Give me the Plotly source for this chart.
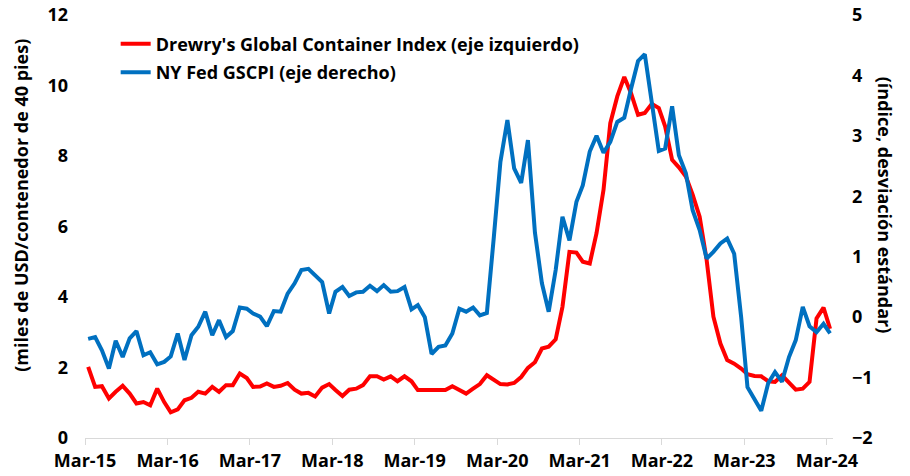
import pandas as pd
import plotly.graph_objects as go

# monthly observations, Mar-2015 .. Mar-2024 (plotted mid-month)
months = pd.date_range("2015-03-01", periods=109, freq="MS") + pd.Timedelta(days=14)

drewry = [
    2.02, 1.45, 1.47, 1.12, 1.31, 1.48, 1.26, 0.98, 1.02, 0.93, 1.40, 1.02,
    0.73, 0.81, 1.07, 1.14, 1.31, 1.26, 1.45, 1.31, 1.50, 1.50, 1.83, 1.70,
    1.45, 1.46, 1.55, 1.45, 1.48, 1.56, 1.37, 1.26, 1.28, 1.18, 1.43, 1.53,
    1.36, 1.19, 1.37, 1.40, 1.50, 1.75, 1.75, 1.66, 1.75, 1.61, 1.75, 1.61,
    1.36, 1.36, 1.36, 1.36, 1.36, 1.47, 1.36, 1.26, 1.40, 1.53, 1.78, 1.66,
    1.53, 1.52, 1.56, 1.73, 1.99, 2.15, 2.54, 2.59, 2.80, 3.72, 5.28, 5.26,
    5.00, 4.95, 5.81, 7.04, 8.93, 9.69, 10.24, 9.78, 9.17, 9.22, 9.48, 9.36,
    8.84, 7.89, 7.68, 7.42, 6.90, 6.28, 5.05, 3.44, 2.68, 2.21, 2.11, 1.97,
    1.81, 1.76, 1.75, 1.61, 1.59, 1.78, 1.56, 1.37, 1.40, 1.59, 3.39, 3.70,
    3.10,
]

gscpi = [
    -0.36, -0.33, -0.55, -0.85, -0.39, -0.66, -0.35, -0.23, -0.63, -0.58, -0.78, -0.74,
    -0.65, -0.27, -0.71, -0.30, -0.16, 0.09, -0.30, -0.05, -0.33, -0.23, 0.16, 0.14,
    0.06, 0.01, -0.15, 0.10, 0.09, 0.39, 0.56, 0.78, 0.80, 0.68, 0.58, 0.06,
    0.42, 0.50, 0.35, 0.41, 0.42, 0.52, 0.43, 0.53, 0.42, 0.43, 0.50, 0.13,
    0.20, 0.00, -0.61, -0.49, -0.47, -0.27, 0.14, 0.09, 0.16, 0.03, 0.07, 1.33,
    2.57, 3.26, 2.46, 2.22, 2.93, 1.40, 0.56, 0.09, 0.78, 1.66, 1.27, 1.91,
    2.18, 2.74, 3.00, 2.72, 2.90, 3.23, 3.30, 3.78, 4.24, 4.35, 3.59, 2.75,
    2.79, 3.49, 2.68, 2.38, 1.77, 1.44, 0.97, 1.08, 1.22, 1.30, 1.05, 0.00,
    -1.16, -1.35, -1.55, -1.09, -0.91, -1.07, -0.66, -0.38, 0.17, -0.15, -0.25, -0.11,
    -0.27,
]

tick_dates = ["%d-03-01" % y for y in range(2015, 2025)]
tick_text = ["Mar-%02d" % (y % 100) for y in range(2015, 2025)]
left_ticks = [0, 2, 4, 6, 8, 10, 12]
right_ticks = [-2, -1, 0, 1, 2, 3, 4, 5]

FONT = "Open Sans"
FS = 18

fig = go.Figure()
fig.add_trace(go.Scatter(
    x=months, y=drewry, mode="lines", name="Drewry's Global Container Index (eje izquierdo)",
    line=dict(color="#FF0000", width=4), legendgroup="a", yaxis="y",
))
fig.add_trace(go.Scatter(
    x=months, y=gscpi, mode="lines", name="NY Fed GSCPI (eje derecho)",
    line=dict(color="#0070C0", width=4), legendgroup="b", yaxis="y2",
))

fig.update_layout(
    width=910, height=476,
    margin=dict(l=85, r=77, t=15, b=38),
    paper_bgcolor="white", plot_bgcolor="white",
    font=dict(family=FONT, size=FS, color="black", weight="bold"),
    showlegend=True,
    legend=dict(x=0.041, y=0.975, xanchor="left", yanchor="top",
                bgcolor="rgba(0,0,0,0)", tracegroupgap=2,
                font=dict(family=FONT, size=FS, color="black", weight="bold")),
    xaxis=dict(
        type="date", range=["2015-03-01", "2024-03-28"], automargin=False,
        tickvals=tick_dates, ticktext=tick_text,
        showgrid=False, zeroline=False,
        showline=True, linecolor="#d9d9d9", linewidth=1,
        ticks="outside", tickcolor="#d9d9d9", ticklen=6,
        tickfont=dict(family=FONT, size=FS, weight="bold"),
    ),
    yaxis=dict(
        range=[0, 12], tickvals=left_ticks, showgrid=False, zeroline=False,
        showline=False, ticks="", ticklabelstandoff=16, automargin=False,
        tickfont=dict(family=FONT, size=FS, weight="bold"),
    ),
    yaxis2=dict(
        range=[-2, 5], tickvals=right_ticks, overlaying="y", side="right",
        showgrid=False, zeroline=False, showline=False, ticks="",
        ticklabelstandoff=18, automargin=False,
        tickfont=dict(family=FONT, size=FS, weight="bold"),
    ),
    annotations=[
        dict(text="(miles de USD/contenedor de 40 pies)", textangle=-90,
             xref="paper", yref="paper", x=-0.085, y=0.55, xanchor="center", yanchor="middle",
             showarrow=False, font=dict(family=FONT, size=FS, weight="bold")),
        dict(text="(índice, desviación estándar)", textangle=90,
             xref="paper", yref="paper", x=1.069, y=0.55, xanchor="center", yanchor="middle",
             showarrow=False, font=dict(family=FONT, size=FS, weight="bold")),
    ],
)

# drop the page's default body margin so the chart fills the window exactly
fig.write_html("out.html", config={"displayModeBar": False},
               post_script="document.body.style.margin = '0';")
